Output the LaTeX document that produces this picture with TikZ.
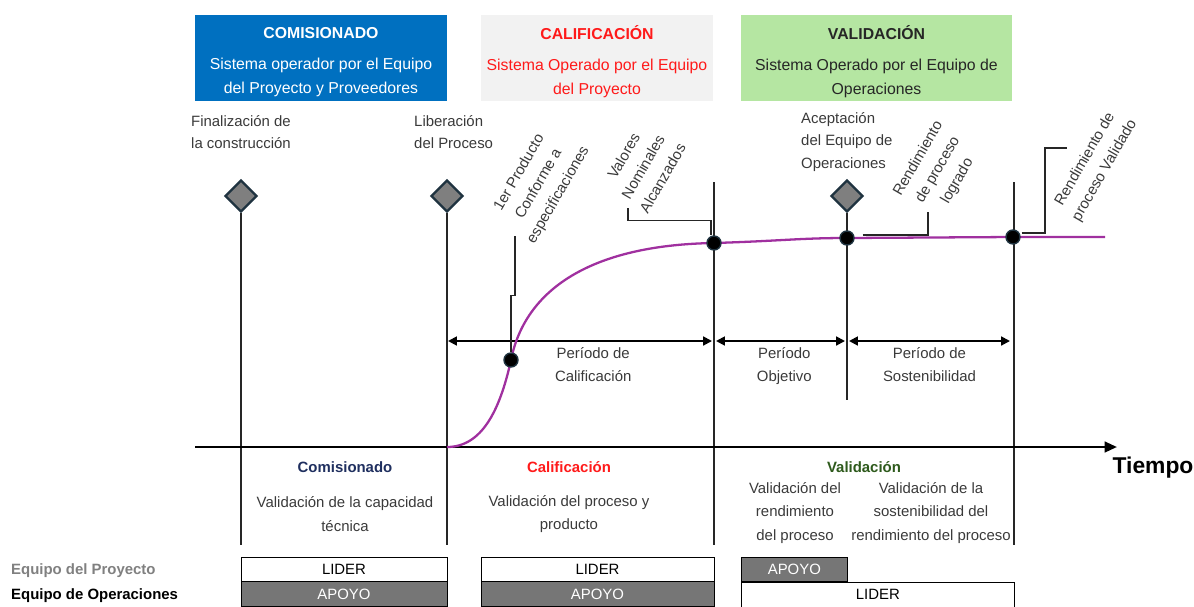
\documentclass[tikz,border=0pt]{standalone}
\usepackage{fontspec}
\setmainfont{Liberation Sans}
\usetikzlibrary{shapes.geometric,arrows.meta,positioning}

\definecolor{comblue}{HTML}{0070C0}
\definecolor{calgray}{HTML}{F2F2F2}
\definecolor{valgreen}{HTML}{B5E6A2}
\definecolor{curvepurple}{HTML}{A0309F}
\definecolor{mkgray}{HTML}{7F7F7F}
\definecolor{mkedge}{HTML}{1F3340}
\definecolor{linegray}{HTML}{262626}
\definecolor{txtgray}{HTML}{3A3A3A}
\definecolor{apoyogray}{HTML}{767676}
\definecolor{teamgray}{HTML}{808080}
\definecolor{navy}{HTML}{1F2F5F}
\definecolor{darkgreen}{HTML}{2E5A1C}
\definecolor{calred}{HTML}{FF1A1A}

\tikzstyle{phase} = [rectangle, minimum height=1.72cm, inner sep=0pt]
\tikzstyle{phasetext} = [align=center, inner sep=0pt, font=\fontsize{9}{13.6}\selectfont]
\tikzstyle{milestone} = [diamond, draw=mkedge, fill=mkgray, line width=1.3pt,
    minimum size=0.64cm, inner sep=0pt]
\tikzstyle{event} = [circle, draw=mkedge, fill=black, line width=0.8pt,
    minimum size=0.28cm, inner sep=0pt]
\tikzstyle{note} = [align=center, text=txtgray, font=\fontsize{8.5}{12.8}\selectfont]
\tikzstyle{tag} = [note, rotate=60]
\tikzstyle{stage} = [align=center, text=txtgray, font=\fontsize{8.5}{13.6}\selectfont]
\tikzstyle{role} = [draw=black, rectangle, minimum height=0.48cm, inner sep=0pt,
    font=\fontsize{8.5}{10}\selectfont]
\tikzstyle{lider} = [role, fill=white]
\tikzstyle{apoyo} = [role, fill=apoyogray, text=white]
\tikzstyle{marker} = [draw=linegray, line width=0.6pt]
\tikzstyle{callout} = [draw=linegray, line width=0.9pt]
\tikzstyle{period} = [draw=black, line width=1.1pt]
\tikzstyle{axis} = [draw=black, line width=1.4pt, -{Triangle[length=7pt,width=6pt]}]
\tikzstyle{growth} = [draw=curvepurple, line width=1.3pt]
\tikzstyle{team} = [anchor=west, font=\bfseries\fontsize{8.5}{10}\selectfont]

\begin{document}
\begin{tikzpicture}[x=0.02cm, y=-0.02cm, >={Triangle[length=5pt,width=5pt]}]
    \useasboundingbox (0,0) rectangle (1194,606);

    \node [phase, fill=comblue, minimum width=5.04cm] (comisionado) at (321,58) {};
    \node [phase, fill=calgray, minimum width=4.64cm] (calificacion) at (597,58) {};
    \node [phase, fill=valgreen, minimum width=5.42cm] (validacion) at (876.5,58) {};
    \node [phasetext, text=white] (comisionadotxt) at (321,62)
        {\textbf{COMISIONADO}\\[4pt]Sistema operador por el Equipo\\del Proyecto y Proveedores};
    \node [phasetext, text=calred] (calificaciontxt) at (597,62)
        {\textbf{CALIFICACIÓN}\\[4pt]Sistema Operado por el Equipo\\del Proyecto};
    \node [phasetext, text=black!85] (validaciontxt) at (876.5,62)
        {\textbf{VALIDACIÓN}\\[4pt]Sistema Operado por el Equipo de\\Operaciones};

    \node [note] (finalizacionlbl) at (241,132) {Finalización de\\la construcción};
    \node [note, anchor=west, align=left] (liberacionlbl) at (408,132) {Liberación\\del Proceso};
    \node [note, anchor=west, align=left] (aceptacionlbl) at (795,142) {Aceptación\\del Equipo de\\Operaciones};

    \node [milestone] (finalizacion) at (241,196) {};
    \node [milestone] (liberacion) at (447,196) {};
    \node [milestone] (aceptacion) at (847,196) {};

    \coordinate (bot1) at (241,545);
    \coordinate (bot2) at (447,545);
    \coordinate (top3) at (714,182);
    \coordinate (bot3) at (714,545);
    \coordinate (bot4) at (847,400);
    \coordinate (top5) at (1014,182);
    \coordinate (bot5) at (1014,545);
    \draw [marker] (finalizacion) -- (bot1);
    \draw [marker] (liberacion) -- (bot2);
    \draw [marker] (top3) -- (bot3);
    \draw [marker] (aceptacion) -- (bot4);
    \draw [marker] (top5) -- (bot5);

    \coordinate (origin) at (195,447);
    \coordinate (tend) at (1117,447);
    \draw [axis] (origin) -- (tend);
    \node [font=\bfseries\fontsize{13}{15}\selectfont] (tiempo) at (1153,468) {Tiempo};

    \coordinate (qa) at (448,341);
    \coordinate (qb) at (712,341);
    \coordinate (qc) at (716,341);
    \coordinate (qd) at (845,341);
    \coordinate (qe) at (849,341);
    \coordinate (qf) at (1010,341);
    \draw [period, <->] (qa) -- node [below, note, pos=0.55] {Período de\\Calificación} (qb);
    \draw [period, <->] (qc) -- node [below, note, pos=0.53] {Período\\Objetivo} (qd);
    \draw [period, <->] (qe) -- node [below, note, pos=0.5] {Período de\\Sostenibilidad} (qf);

    \coordinate (p0) at (447,447);
    \coordinate (p1) at (511,360);
    \coordinate (p2) at (714,243);
    \coordinate (p3) at (847,238);
    \coordinate (p4) at (1013,237);
    \coordinate (p5) at (1105,237);
    \draw [growth] (p0) .. controls (482,447) and (500,410) .. (p1)
        .. controls (525,290) and (590,245) .. (p2)
        .. controls (780,241) and (800,238) .. (p3) -- (p4) -- (p5);
    \node [event] (e1) at (p1) {};
    \node [event] (e2) at (p2) {};
    \node [event] (e3) at (p3) {};
    \node [event] (e4) at (p4) {};

    \node [tag] (producto) at (539,184) {1er Producto\\Conforme a\\especificaciones};
    \node [tag] (valores) at (643,167) {Valores\\Nominales\\Alcanzados};
    \node [tag] (logrado) at (938,170) {Rendimiento\\de proceso\\logrado};
    \node [tag] (validado) at (1095,165) {Rendimiento de\\proceso Validado};

    \coordinate (c1) at (515,236);
    \coordinate (c2) at (628,208);
    \coordinate (c3) at (928,212);
    \coordinate (c4) at (1067,148);
    \draw [callout] (e1.north) -- ++(0,-57) -- ++(4,0) -- (c1);
    \draw [callout] (e2.north) ++(-3,0) -- ++(0,-15) -| (c2);
    \draw [callout] (e3.east) ++(8,-3) -| (c3);
    \draw [callout] (e4.east) ++(1,-4) -- ++(23,0) |- (c4);

    \node [stage, text=navy] (comtitle) at (345,467) {\bfseries Comisionado};
    \node [stage] (comtext) at (345,514) {Validación de la capacidad\\técnica};
    \node [stage, text=calred] (caltitle) at (569,467) {\bfseries Calificación};
    \node [stage] (caltext) at (569,514) {Validación del proceso y\\producto};
    \node [stage, text=darkgreen] (valtitle) at (864,467) {\bfseries Validación};
    \node [stage] (valtext1) at (795,513) {Validación del\\rendimiento\\del proceso};
    \node [stage] (valtext2) at (931,513) {Validación de la\\sostenibilidad del\\rendimiento del proceso};

    \node [lider, minimum width=4.12cm] (lider1) at (344,569) {LIDER};
    \node [apoyo, minimum width=4.12cm, minimum height=0.5cm, below=0pt of lider1] (apoyo1) {APOYO};
    \node [lider, minimum width=4.66cm] (lider2) at (597.5,569) {LIDER};
    \node [apoyo, minimum width=4.66cm, minimum height=0.5cm, below=0pt of lider2] (apoyo2) {APOYO};
    \node [apoyo, minimum width=2.12cm, anchor=north west] (apoyo3) at (741,557) {APOYO};
    \node [lider, minimum width=5.46cm, minimum height=0.5cm, anchor=north west] (lider3) at (apoyo3.south west) {LIDER};

    \node [team, text=teamgray] (proyecto) at (5,571) {Equipo del Proyecto};
    \node [team, text=black] (operaciones) at (5,596) {Equipo de Operaciones};
\end{tikzpicture}
\end{document}
